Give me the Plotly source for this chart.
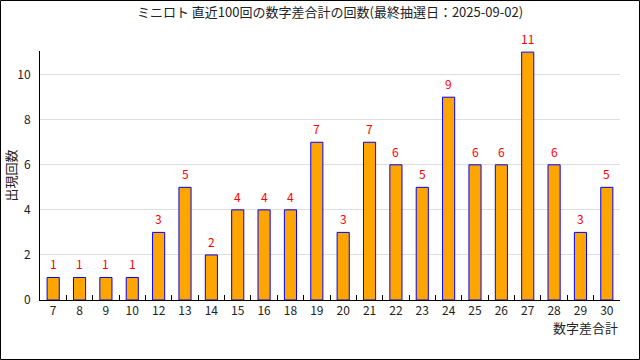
import plotly.graph_objects as go

categories = ["7", "8", "9", "10", "12", "13", "14", "15", "16", "18", "19",
              "20", "21", "22", "23", "24", "25", "26", "27", "28", "29", "30"]
counts = [1, 1, 1, 1, 3, 5, 2, 4, 4, 4, 7, 3, 7, 6, 5, 9, 6, 6, 11, 6, 3, 5]
y_ticks = [0, 2, 4, 6, 8, 10]

title_text = "ミニロト 直近100回の数字差合計の回数(最終抽選日：2025-09-02)"
font_family = "Noto Sans CJK JP, DejaVu Sans, sans-serif"

W, H = 640, 360
L, R, T, B = 40, 20, 51, 60
pw, ph = W - L - R, H - T - B

fig = go.Figure()
fig.add_trace(go.Bar(
    x=categories, y=counts,
    width=0.46,
    marker=dict(color="#FFA500", line=dict(color="#0000FF", width=1)),
    hoverinfo="x+y",
))

annotations = []
for i, v in enumerate(counts):
    annotations.append(dict(
        x=i, y=v, xref="x", yref="y", text=str(v), showarrow=False,
        yanchor="bottom", yshift=3,
        font=dict(color="#FF0000", size=12, family=font_family),
    ))
annotations.append(dict(
    x=1, y=0, xref="paper", yref="paper", text="数字差合計", showarrow=False,
    xanchor="right", yanchor="top", yshift=-16,
    font=dict(color="#222222", size=13, family=font_family),
))
annotations.append(dict(
    x=-30 / pw, y=0.5, xref="paper", yref="paper", text="出現回数", showarrow=False,
    xanchor="center", yanchor="middle", textangle=-90,
    font=dict(color="#222222", size=13, family=font_family),
))

fig.update_layout(
    width=W, height=H,
    margin=dict(l=L, r=R, t=T, b=B, autoexpand=False),
    paper_bgcolor="white", plot_bgcolor="white",
    font=dict(family=font_family, size=11, color="#222222"),
    title=dict(text=title_text, x=0.5, xref="paper", xanchor="center",
               y=1 - 12 / H, yanchor="middle", automargin=False,
               font=dict(size=13, color="#222222", family=font_family)),
    showlegend=False,
    annotations=annotations,
    shapes=[dict(type="rect", xref="paper", yref="paper",
                 x0=(-L + 0.5) / pw, x1=1 + (R - 0.5) / pw,
                 y0=(-B + 0.5) / ph, y1=1 + (T - 0.5) / ph,
                 line=dict(color="black", width=1), layer="above")],
)
fig.update_xaxes(
    type="category", showline=True, linecolor="black", linewidth=1,
    ticks="inside", tickson="boundaries", ticklen=5, tickcolor="black",
    showgrid=False, tickfont=dict(size=12, color="#222222"),
    range=[-0.5, len(categories) - 0.5], automargin=False,
)
fig.update_yaxes(
    range=[0, 11.05], tickvals=y_ticks, showline=True, linecolor="black",
    linewidth=1, showgrid=True, gridcolor="#DDDDDD", ticks="", zeroline=False,
    tickfont=dict(size=12, color="#222222"), ticklabelstandoff=6,
    automargin=False,
)

fig.write_html("out.html", config={"displayModeBar": False},
               post_script="document.body.style.margin='0';document.body.style.overflow='hidden';")
